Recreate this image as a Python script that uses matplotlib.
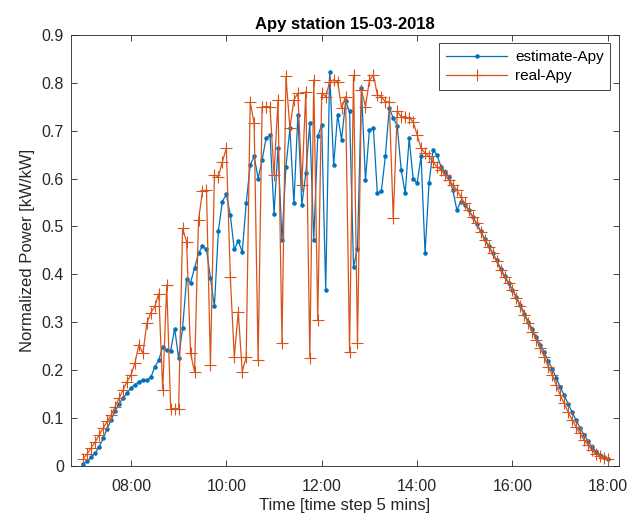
import numpy as np
import matplotlib
matplotlib.use("Agg")
import matplotlib.pyplot as plt

plt.rcParams['font.family'] = ['Liberation Sans', 'DejaVu Sans']

# 5-minute samples from 07:00 to 18:00
n_steps = 133
t_hours = 7 + np.arange(n_steps) * 5 / 60.0

real_apy = [
    0.015, 0.026, 0.038, 0.050, 0.065, 0.079, 0.093, 0.106, 0.124, 0.141,
    0.159, 0.176, 0.190, 0.215, 0.253, 0.235, 0.298, 0.320, 0.333, 0.360,
    0.159, 0.378, 0.120, 0.120, 0.120, 0.496, 0.468, 0.235, 0.197, 0.514,
    0.573, 0.576, 0.211, 0.607, 0.604, 0.635, 0.663, 0.395, 0.228, 0.322,
    0.197, 0.228, 0.760, 0.715, 0.221, 0.750, 0.750, 0.750, 0.607, 0.764,
    0.256, 0.813, 0.705, 0.764, 0.778, 0.587, 0.781, 0.225, 0.806, 0.305,
    0.778, 0.771, 0.802, 0.806, 0.802, 0.747, 0.771, 0.239, 0.816, 0.256,
    0.785, 0.750, 0.805, 0.816, 0.775, 0.771, 0.760, 0.760, 0.517, 0.740,
    0.729, 0.729, 0.726, 0.719, 0.691, 0.663, 0.653, 0.646, 0.635, 0.625,
    0.618, 0.607, 0.597, 0.587, 0.576, 0.562, 0.548, 0.534, 0.520, 0.507,
    0.489, 0.472, 0.458, 0.444, 0.427, 0.409, 0.395, 0.381, 0.367, 0.350,
    0.333, 0.315, 0.298, 0.280, 0.263, 0.246, 0.228, 0.207, 0.190, 0.169,
    0.148, 0.131, 0.113, 0.096, 0.082, 0.068, 0.054, 0.044, 0.033, 0.026,
    0.021, 0.017, 0.015,
]

estimate_apy = [
    0.005, 0.010, 0.019, 0.027, 0.040, 0.058, 0.078, 0.096, 0.115, 0.130,
    0.142, 0.152, 0.163, 0.170, 0.176, 0.180, 0.180, 0.185, 0.207, 0.221,
    0.249, 0.242, 0.241, 0.287, 0.225, 0.289, 0.390, 0.383, 0.413, 0.444,
    0.459, 0.452, 0.392, 0.333, 0.491, 0.552, 0.567, 0.524, 0.452, 0.470,
    0.447, 0.548, 0.628, 0.646, 0.600, 0.639, 0.684, 0.691, 0.527, 0.663,
    0.472, 0.625, 0.705, 0.548, 0.733, 0.545, 0.611, 0.715, 0.472, 0.688,
    0.712, 0.367, 0.823, 0.628, 0.733, 0.681, 0.761, 0.740, 0.416, 0.454,
    0.788, 0.597, 0.701, 0.705, 0.569, 0.573, 0.646, 0.747, 0.726, 0.710,
    0.618, 0.569, 0.684, 0.600, 0.590, 0.646, 0.444, 0.590, 0.660, 0.649,
    0.625, 0.614, 0.604, 0.576, 0.534, 0.552, 0.545, 0.534, 0.520, 0.505,
    0.490, 0.474, 0.460, 0.445, 0.430, 0.412, 0.397, 0.383, 0.368, 0.352,
    0.336, 0.318, 0.301, 0.285, 0.269, 0.253, 0.237, 0.219, 0.203, 0.184,
    0.165, 0.148, 0.130, 0.112, 0.096, 0.080, 0.065, 0.052, 0.040, 0.030,
    0.023, 0.018, 0.015,
]

tick_hours = [8, 10, 12, 14, 16, 18]
tick_labels = ['08:00', '10:00', '12:00', '14:00', '16:00', '18:00']
y_ticks = [0, 0.1, 0.2, 0.3, 0.4, 0.5, 0.6, 0.7, 0.8, 0.9]

ax_col = '#262626'

fig = plt.figure(figsize=(6.27, 5.19), dpi=100)
ax = fig.add_axes([0.113, 0.102, 0.874, 0.831])

ax.plot(t_hours, estimate_apy, color='#0072BD', lw=0.9, marker='.',
        markersize=4.5, label='estimate-Apy')
ax.plot(t_hours, real_apy, color='#D95319', lw=0.9, marker='+',
        markersize=9, markeredgewidth=0.8, label='real-Apy')

ax.set_xlim(6.74, 18.23)
ax.set_ylim(0, 0.9)
ax.set_xticks(tick_hours)
ax.set_xticklabels(tick_labels)
ax.set_yticks(y_ticks)
ax.set_yticklabels(['0'] + ['%g' % v for v in y_ticks[1:]])

ax.tick_params(direction='in', top=True, right=True, length=4, width=0.6,
               colors=ax_col, labelsize=11.5, labelcolor=ax_col, pad=5)
ax.tick_params(axis='x', pad=9)
for s in ax.spines.values():
    s.set_color(ax_col)
    s.set_linewidth(0.6)

ax.set_title('Apy station 15-03-2018', fontsize=12, fontweight='bold', pad=4)
ax.set_xlabel('Time [time step 5 mins]', fontsize=12, color=ax_col, labelpad=3)
ax.set_ylabel('Normalized Power [kW/kW]', fontsize=12, color=ax_col, labelpad=5)

leg = ax.legend(loc='upper right', fontsize=11, fancybox=False,
                edgecolor=ax_col, framealpha=1, handlelength=4.0,
                borderaxespad=0.55, borderpad=0.45, labelspacing=0.35,
                handletextpad=0.5)
leg.get_frame().set_linewidth(0.6)

fig.savefig('out.png', dpi=100)
